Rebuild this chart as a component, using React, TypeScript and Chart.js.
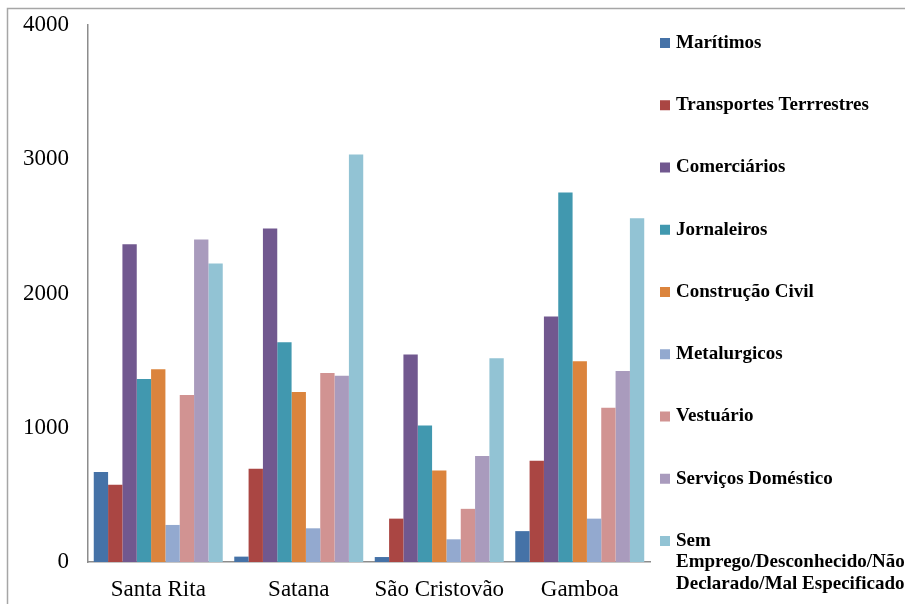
import React, { useEffect, useRef } from "react";
import { Chart, registerables } from "chart.js";

Chart.register(...registerables);

const categories = ["Santa Rita", "Satana", "São Cristovão", "Gamboa"];

const seriesLabels = [
  "Marítimos",
  "Transportes Terrrestres",
  "Comerciários",
  "Jornaleiros",
  "Construção Civil",
  "Metalurgicos",
  "Vestuário",
  "Serviços Doméstico",
  "Sem\nEmprego/Desconhecido/Não\nDeclarado/Mal Especificado",
];

const seriesColors = [
  "#4572A7",
  "#AA4643",
  "#71588F",
  "#4198AF",
  "#DB843D",
  "#93A9CF",
  "#D19392",
  "#A99BBD",
  "#92C3D4",
];

const maritimos = [670, 40, 37, 230];
const transportes = [575, 694, 323, 754];
const comerciarios = [2366, 2485, 1545, 1828];
const jornaleiros = [1363, 1637, 1017, 2752];
const construcao = [1435, 1266, 681, 1495];
const metalurgicos = [276, 251, 169, 323];
const vestuario = [1244, 1408, 396, 1149];
const servicos = [2403, 1388, 789, 1423];
const semEmprego = [2224, 3035, 1517, 2560];

const seriesValues = [
  maritimos,
  transportes,
  comerciarios,
  jornaleiros,
  construcao,
  metalurgicos,
  vestuario,
  servicos,
  semEmprego,
];

const yTicks = [0, 1000, 2000, 3000, 4000];

const FONT = '"Liberation Serif", "Times New Roman", serif';

const frameAndLegend = {
  id: "frameAndLegend",
  afterDraw(chart: any) {
    const ctx = chart.ctx;
    ctx.save();
    // outer frame
    ctx.strokeStyle = "#a6a6a6";
    ctx.lineWidth = 1.5;
    ctx.strokeRect(7.5, 8.5, chart.width + 20, chart.height + 20);
    // legend
    ctx.font = "bold 19px " + FONT;
    ctx.textBaseline = "middle";
    ctx.textAlign = "left";
    chart.data.datasets.forEach((ds: any, i: number) => {
      const y = 43 + i * 62.25;
      ctx.fillStyle = ds.backgroundColor;
      ctx.fillRect(660, y - 5, 10, 10);
      ctx.fillStyle = "#000";
      const lines = String(ds.label).split("\n");
      lines.forEach((ln: string, j: number) => {
        ctx.fillText(ln, 676, y + j * 21.5);
      });
    });
    ctx.restore();
  },
};

export default function App() {
  const ref = useRef<HTMLCanvasElement>(null);
  useEffect(() => {
    if (!ref.current) return;
    const chart = new Chart(ref.current, {
      type: "bar",
      data: {
        labels: categories,
        datasets: seriesLabels.map((label, i) => ({
          label,
          data: seriesValues[i],
          backgroundColor: seriesColors[i],
          borderWidth: 0,
          categoryPercentage: 0.918,
          barPercentage: 1,
        })),
      },
      options: {
        animation: false,
        responsive: false,
        maintainAspectRatio: false,
        layout: { padding: { top: 25, right: 255, bottom: 0, left: 0 } },
        plugins: {
          legend: { display: false },
          tooltip: { enabled: false },
        },
        scales: {
          x: {
            grid: { display: false, drawTicks: false },
            border: { display: true, color: "#8c8c8c", width: 1.5 },
            ticks: {
              font: { family: FONT, size: 23 },
              color: "#000",
              padding: 14,
              maxRotation: 0,
            },
            afterFit: (scale: any) => {
              scale.height = 42;
              scale.paddingLeft = 0;
              scale.paddingRight = 0;
            },
          },
          y: {
            min: 0,
            max: 4000,
            grid: { display: false, drawTicks: false },
            border: { display: true, color: "#8c8c8c", width: 1.5 },
            afterBuildTicks: (scale: any) => {
              scale.ticks = yTicks.map((v) => ({ value: v }));
            },
            ticks: {
              font: { family: FONT, size: 23 },
              color: "#000",
              padding: 19,
              callback: (v: any) => String(v),
            },
            afterFit: (scale: any) => {
              scale.width = 88;
              scale.paddingTop = 0;
              scale.paddingBottom = 0;
            },
          },
        },
      },
      plugins: [frameAndLegend],
    });
    return () => chart.destroy();
  }, []);
  return (
    <div style={{ position: "absolute", left: 0, top: 0, width: 905, height: 604, background: "#fff" }}>
      <canvas ref={ref} width={905} height={604} style={{ display: "block" }} />
    </div>
  );
}
